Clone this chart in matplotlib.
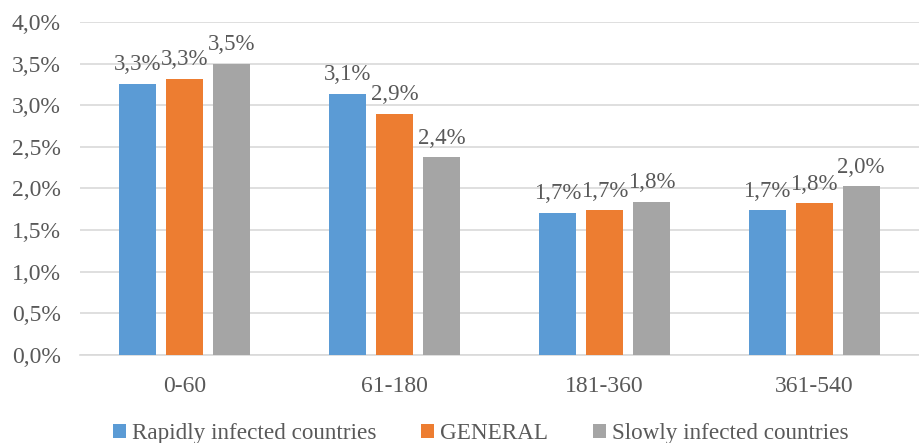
import matplotlib
matplotlib.use("Agg")
import matplotlib.pyplot as plt
import numpy as np
from matplotlib.ticker import FuncFormatter

categories = ["0-60", "61-180", "181-360", "361-540"]
series_names = ["Rapidly infected countries", "GENERAL", "Slowly infected countries"]
rapid = [3.26, 3.14, 1.71, 1.74]
general = [3.32, 2.90, 1.74, 1.82]
slow = [3.50, 2.38, 1.84, 2.03]
colors = ["#5B9BD5", "#ED7D31", "#A5A5A5"]

plt.rcParams['font.family'] = ['Liberation Serif', 'DejaVu Serif']
txt = "#595959"

fig = plt.figure(figsize=(9.19, 4.43), dpi=100)
ax = fig.add_axes([0.087, 0.199, 0.913, 0.751])

x = np.arange(len(categories))
w = 0.176
step = 0.224
for i, (vals, name, c) in enumerate(zip([rapid, general, slow], series_names, colors)):
    pos = x + (i - 1) * step
    ax.bar(pos, vals, width=w, color=c, label=name, zorder=3)
    for p, v in zip(pos, vals):
        ax.text(p, v + 0.1, f"{v:.1f}%".replace(".", ","), ha="center", va="bottom",
                fontsize=16.5, color=txt, zorder=4)

ax.set_xlim(-0.5, 3.5)
ax.set_ylim(0, 4.0)
ax.set_yticks(np.arange(0, 4.01, 0.5))
ax.yaxis.set_major_formatter(FuncFormatter(lambda v, p: f"{v:.1f}%".replace(".", ",")))
ax.set_xticks(x)
ax.set_xticklabels(categories)
ax.tick_params(axis="both", length=0, labelsize=17, labelcolor=txt)
ax.tick_params(axis="x", pad=15)
ax.tick_params(axis="y", pad=14)
ax.grid(axis="y", color="#D9D9D9", linewidth=1.2, zorder=0)
for s in ["top", "right", "left"]:
    ax.spines[s].set_visible(False)
ax.spines["bottom"].set_color("#D9D9D9")
ax.spines["bottom"].set_linewidth(1.2)

leg = fig.legend(loc="lower center", bbox_to_anchor=(0.523, -0.05), ncol=3, frameon=False,
                 fontsize=16.7, handlelength=0.55, handleheight=0.55, handletextpad=0.25,
                 columnspacing=1.95, labelcolor=txt)

fig.savefig("out.png", dpi=100)
